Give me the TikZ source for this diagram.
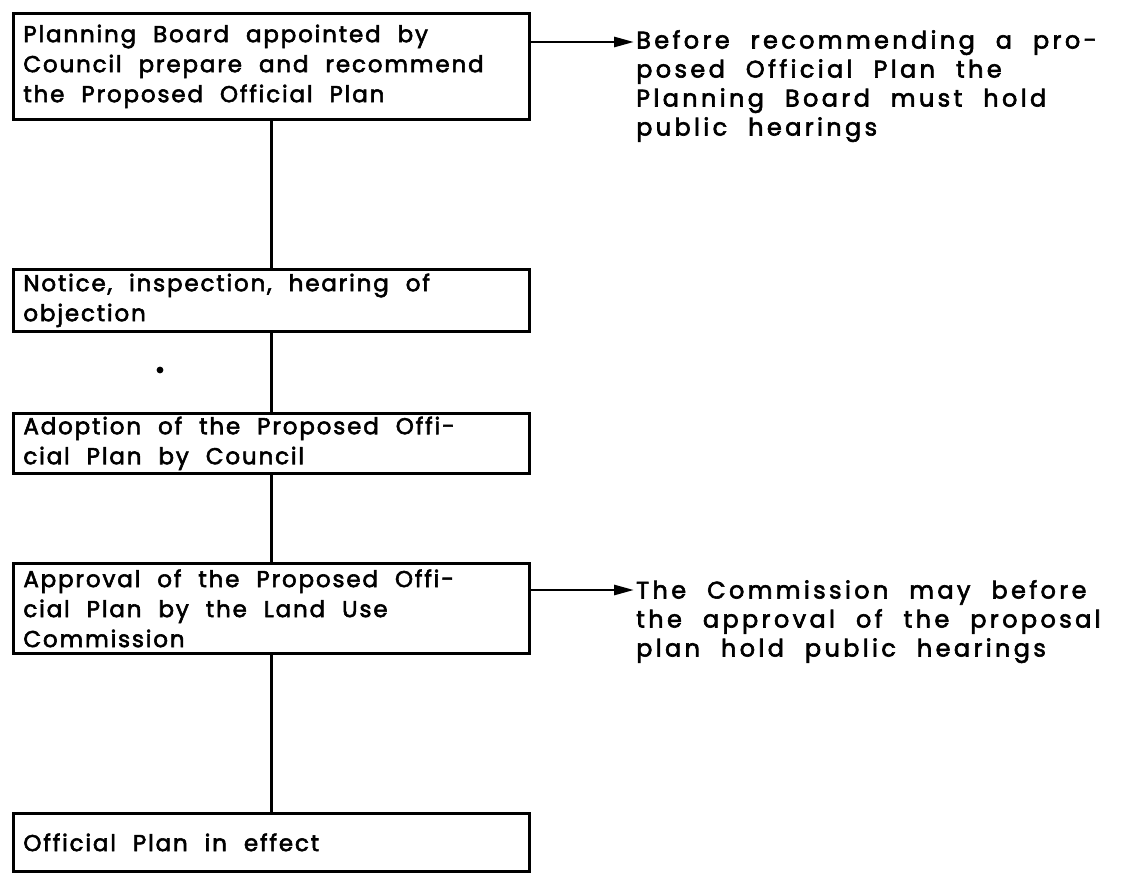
\documentclass[tikz,border=0pt]{standalone}
\usepackage{fontspec}
\newfontfamily\stepfont{Poppins}[LetterSpace=8, Ligatures=CommonOff, FakeBold=2.5]
\newfontfamily\notefont{Poppins}[LetterSpace=14, Ligatures=CommonOff, FakeBold=2.5]
% wide word gaps (set inside the node, after TikZ's own alignment setup)
\newcommand\stepgap{\spaceskip=17pt plus 1pt\relax}
\newcommand\notegap{\spaceskip=21pt plus 1pt\relax}
\usetikzlibrary{arrows.meta}
\begin{document}
\begin{tikzpicture}[x=1pt,y=-1pt,
  stepbox/.style={draw, line width=2.8pt, anchor=north west,
    minimum width=516pt, text width=496pt, inner xsep=10pt, inner ysep=0pt,
    align=left, font=\stepfont\fontsize{23}{30}\selectfont},
  note/.style={anchor=north west, inner sep=0pt, align=left, text width=505pt,
    font=\notefont\fontsize{24}{29}\selectfont},
  link/.style={line width=2.8pt},
  flowarrow/.style={line width=2.8pt, -{Triangle[length=20pt,width=10pt]}}]
  \useasboundingbox (0,0) rectangle (1142,888);

  % process steps
  \node[stepbox, minimum height=106pt] (b1) at (12,12)
    {\stepgap Planning Board appointed by\\Council prepare and recommend\\the Proposed Official Plan};
  \node[stepbox, minimum height=62pt] (b2) at (12,268)
    {\stepgap Notice, inspection, hearing of\\objection};
  \node[stepbox, minimum height=60pt] (b3) at (12,412)
    {\stepgap Adoption of the Proposed Offi-\\cial Plan by Council};
  \node[stepbox, minimum height=90pt] (b4) at (12,562)
    {\stepgap Approval of the Proposed Offi-\\cial Plan by the Land Use\\Commission};
  \node[stepbox, minimum height=58pt] (b5) at (12,812)
    {\stepgap Official Plan in effect};

  % side remarks
  \node[note] (n1) at (636,30)
    {\notegap Before recommending a pro-\\posed Official Plan the\\Planning Board must hold\\public hearings};
  \node[note] (n2) at (636,580)
    {\notegap The Commission may before\\the approval of the proposal\\plan hold public hearings};
  \coordinate (t1) at (634,42);
  \coordinate (t2) at (634,590);

  % connectors
  \draw[link] (b1.south) -- (b2.north);
  \draw[link] (b2.south) -- (b3.north);
  \draw[link] (b3.south) -- (b4.north);
  \draw[link] (b4.south) -- (b5.north);
  \draw[flowarrow] (b1.east |- t1) -- (t1);
  \draw[flowarrow] (b4.east |- t2) -- (t2);

  % stray dot
  \fill (160,370) circle (3.4pt);
\end{tikzpicture}
\end{document}
